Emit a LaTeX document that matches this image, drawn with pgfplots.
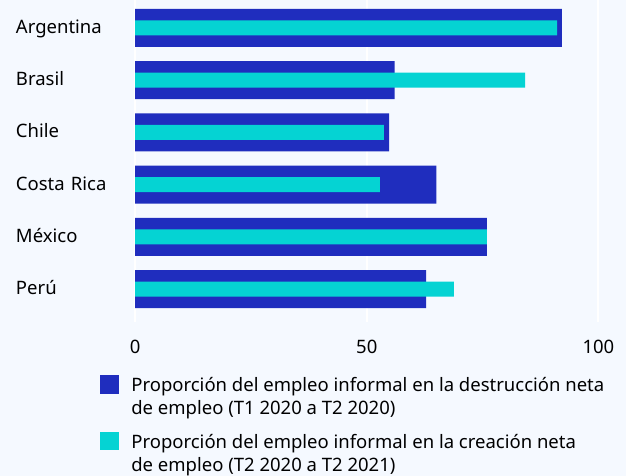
\documentclass[border=0pt]{standalone}
\usepackage{fontspec}
\setmainfont{Noto Sans}
\usepackage{pgfplots}
\pgfplotsset{compat=1.18}
\definecolor{bg}{RGB}{245,249,255}
\definecolor{dblue}{RGB}{31,45,190}
\definecolor{cyanb}{RGB}{5,211,211}
\begin{document}
\fontsize{18.5bp}{23bp}\selectfont
\begin{tikzpicture}
\useasboundingbox (0,0) rectangle (626bp,-476bp);
\fill[bg] (0,0) rectangle (626bp,-476bp);
\begin{axis}[
  at={(135.2bp,-322bp)}, anchor=south west,
  width=463.2bp, height=322bp, scale only axis,
  xmin=0, xmax=100, ymin=-0.632, ymax=5.536,
  xbar, bar shift=0pt,
  ytick={0,1,2,3,4,5},
  yticklabels={Perú,México,Costa Rica,Chile,Brasil,Argentina},
  xtick={0,50,100},
  axis line style={draw=none}, major tick length=0pt,
  xmajorgrids, grid style={white, line width=2bp},
  /pgf/number format/assume math mode=true,
  tick label style={font=\fontsize{18.5bp}{23bp}\selectfont},
  yticklabel style={text width=119bp, align=left, anchor=base east, inner xsep=0pt, yshift=-5.5bp},
  xticklabel style={anchor=base, yshift=-31bp},
  legend style={at={(axis description cs:-0.0756,-0.165)}, anchor=north west,
    draw=none, fill=none, inner sep=0pt, column sep=10bp, row sep=35.3bp,
    cells={anchor=base west, inner sep=0pt},
    font=\fontsize{18.5bp}{23bp}\selectfont},
  legend image code/.code={\fill[#1] (0bp,-2.3bp) rectangle (19bp,16.3bp);},
]
\addplot[fill=dblue, draw=none, bar width=0.728] coordinates {
  (62.8,0) (75.9,1) (65.0,2) (54.8,3) (56.0,4) (92.1,5)};
\addplot[fill=cyanb, draw=none, bar width=0.287] coordinates {
  (68.8,0) (75.9,1) (52.8,2) (53.7,3) (84.2,4) (91.1,5)};
\legend{{\parbox[t]{490bp}{Proporción del empleo informal en la destrucción neta\\de empleo (T1 2020 a T2 2020)}},
        {\parbox[t]{490bp}{Proporción del empleo informal en la creación neta\\de empleo (T2 2020 a T2 2021)}}}
\end{axis}
\end{tikzpicture}
\end{document}
